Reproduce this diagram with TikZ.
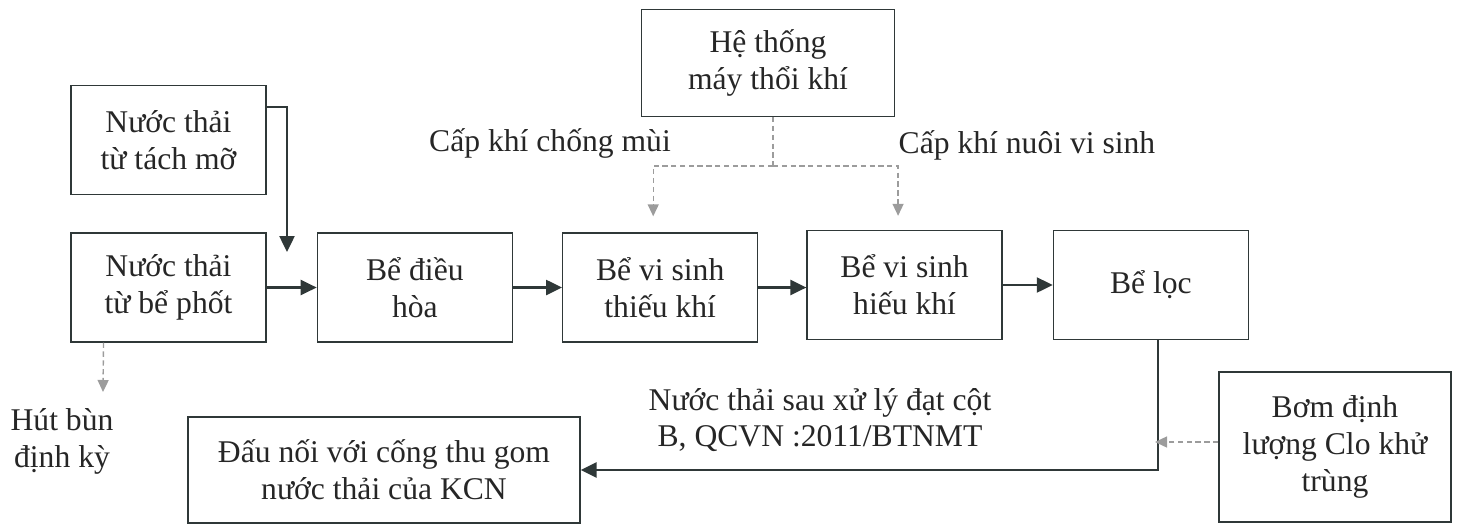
\documentclass[tikz,border=0pt]{standalone}
\usepackage{fontspec}
\setmainfont{Liberation Serif}
\usepackage{xcolor}
\definecolor{inkgrey}{HTML}{2f3838}
\definecolor{airgrey}{HTML}{9c9c9c}
\usepackage{tikz}
\usetikzlibrary{positioning}
\usetikzlibrary{arrows.meta}

\begin{document}
\begin{tikzpicture}[x=0.02cm, y=-0.02cm,
    tank/.style={draw=inkgrey, line width=0.8pt, minimum width=3.9cm, minimum height=2.18cm, align=center, inner sep=2pt, font=\fontsize{18}{21}\selectfont, text=black!85},
    note/.style={align=center, font=\fontsize{18}{21}\selectfont, text=black!85},
    flow/.style={-{Triangle[length=3.2mm,width=3mm]}, draw=inkgrey, line width=1.4pt},
    air/.style={-{Triangle[length=2.4mm,width=2.2mm]}, draw=airgrey, dash pattern=on 3pt off 2pt, line width=0.8pt}]
    \useasboundingbox (0,0) rectangle (1458,525);

    \node [tank] (bephot) at (168.5,287.5) {Nước thải\\từ bể phốt};
    \node [tank, above=0.74cm of bephot] (tachmo) {Nước thải\\từ tách mỡ};
    \node [tank, right=1cm of bephot] (dieuhoa) {Bể điều\\hòa};
    \node [tank, right=0.98cm of dieuhoa] (thieukhi) {Bể vi sinh\\thiếu khí};
    \node [tank, right=0.96cm of thieukhi, yshift=0.05cm] (hieukhi) {Bể vi sinh\\hiếu khí};
    \node [tank, right=1cm of hieukhi] (beloc) {Bể lọc};

    \node [tank, minimum width=5.06cm, minimum height=2.14cm] (hethong) at (768,63) {Hệ thống\\máy thổi khí};
    \node [tank, minimum width=7.84cm, minimum height=2.12cm] (daunoi) at (384,470) {Đấu nối với cống thu gom\\nước thải của KCN};
    \node [tank, minimum width=4.64cm, minimum height=3cm] (bom) at (1335,447) {Bơm định\\lượng Clo khử\\trùng};

    \node [note] (chongmui) at (550,143) {Cấp khí chống mùi};
    \node [note] (nuoivisinh) at (1027,145) {Cấp khí nuôi vi sinh};
    \node [note] (hutbun) at (62,441) {Hút bùn\\định kỳ};
    \node [note] (datcot) at (820,420) {Nước thải sau xử lý đạt cột\\B, QCVN :2011/BTNMT};

    \coordinate (merge) at (287,252);
    \coordinate (split) at (773,166);
    \coordinate (sludge) at (103,392);
    \coordinate (dose) at (1155,442);

    \draw [flow] ([yshift=-0.44cm]tachmo.north east) -| (merge);
    \draw [flow] (bephot) -- (dieuhoa);
    \draw [flow] (dieuhoa) -- (thieukhi);
    \draw [flow] (thieukhi) -- (hieukhi.west |- thieukhi);
    \draw [flow] (hieukhi) -- (beloc);
    \draw [flow] ([xshift=0.14cm]beloc.south) |- (daunoi.east);

    \draw [air, -] (hethong.south -| split) -- (split);
    \draw [air] (split) -| ([xshift=-0.14cm, yshift=0.32cm]thieukhi.north);
    \draw [air] (split) -| ([xshift=-0.13cm, yshift=0.28cm]hieukhi.north);
    \draw [air] ([xshift=-1.3cm]bephot.south) -- (sludge);
    \draw [air] (bom.west |- dose) -- (dose);
\end{tikzpicture}
\end{document}
